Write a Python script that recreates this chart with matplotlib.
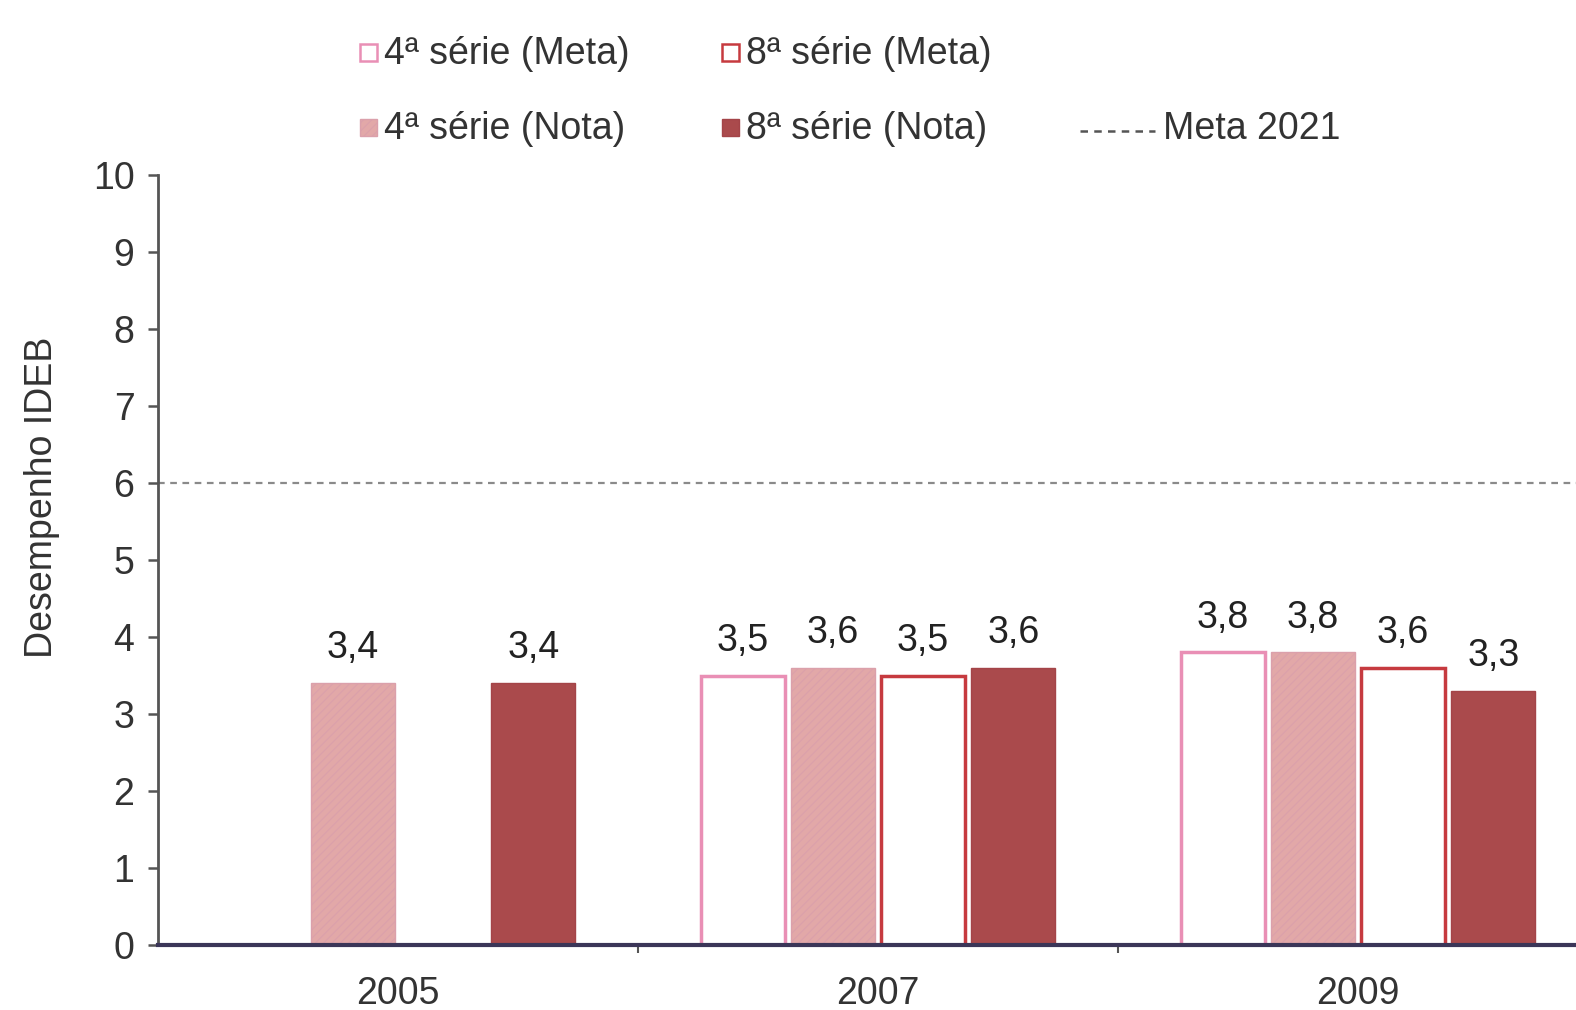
import matplotlib.pyplot as plt
from matplotlib.patches import Rectangle
from matplotlib.lines import Line2D
import numpy as np

plt.rcParams['font.family'] = ['Liberation Sans', 'DejaVu Sans']

# dados
anos = ['2005', '2007', '2009']
meta_4 = [np.nan, 3.5, 3.8]
nota_4 = [3.4, 3.6, 3.8]
meta_8 = [np.nan, 3.5, 3.6]
nota_8 = [3.4, 3.6, 3.3]
meta_2021 = 6
y_ticks = list(range(0, 11))

W, H = 1576, 1010
fs = 27

fig = plt.figure(figsize=(W / 100, H / 100), dpi=100)
ax = fig.add_axes([158 / W, 1 - 945 / H, (W - 158) / W, (945 - 175) / H])

x = np.arange(len(anos))
step = 0.188
width = 0.175
series = [
    (meta_4, dict(facecolor='white', edgecolor='#e98fb5', linewidth=2.5)),
    (nota_4, dict(facecolor='#e2a8a8', edgecolor='#dba0ab', linewidth=1, hatch='////')),
    (meta_8, dict(facecolor='white', edgecolor='#c63a3f', linewidth=2.5)),
    (nota_8, dict(facecolor='#aa4a4c', edgecolor='#a44448', linewidth=1)),
]
plt.rcParams['hatch.color'] = '#eebfc0'
plt.rcParams['hatch.linewidth'] = 0.8

for i, (vals, style) in enumerate(series):
    pos = x + (i - 1.5) * step
    vals = np.array(vals, dtype=float)
    ok = ~np.isnan(vals)
    bars = ax.bar(pos[ok], vals[ok], width, zorder=2, **style)
    for b, v in zip(bars, vals[ok]):
        ax.annotate(f'{v:.1f}'.replace('.', ','),
                    (b.get_x() + b.get_width() / 2, v),
                    xytext=(0, 25), textcoords='offset points',
                    ha='center', va='center', fontsize=fs, color='#222222')

# linha da meta 2021
ax.axhline(meta_2021, color='#8a8a8a', linewidth=1.6, dashes=(3, 2.5), zorder=1)

ax.set_ylim(0, 10)
ax.set_xlim(-0.5, -0.5 + (W - 158) / 480)
ax.set_yticks(y_ticks)
ax.tick_params(axis='y', length=7, width=1.8, color='#555555', pad=10,
               labelsize=fs, labelcolor='#333333')
ax.set_xticks(x)
ax.set_xticklabels(anos)
ax.tick_params(axis='x', length=0, pad=22, labelsize=fs, labelcolor='#333333')
ax.set_xticks([0.5, 1.5], minor=True)
ax.tick_params(axis='x', which='minor', length=6, width=1.5, color='#555555')

for s in ['top', 'right']:
    ax.spines[s].set_visible(False)
ax.spines['left'].set_color('#555555')
ax.spines['left'].set_linewidth(2)
ax.spines['bottom'].set_color('#3b3658')
ax.spines['bottom'].set_linewidth(3)

fig.text(42 / W, 1 - 497 / H, 'Desempenho IDEB', rotation=90,
         ha='center', va='center', fontsize=fs, color='#333333')

# legenda desenhada à mão
leg = [
    (360, 52, series[0][1], '4ª série (Meta)'),
    (722, 52, series[2][1], '8ª série (Meta)'),
    (360, 127, series[1][1], '4ª série (Nota)'),
    (722, 127, series[3][1], '8ª série (Nota)'),
]
for px, py, style, label in leg:
    sz = 17
    st = dict(style)
    st['linewidth'] = min(st.get('linewidth', 1), 1.8)
    fig.patches.append(Rectangle((px / W, 1 - (py + 9) / H), sz / W, sz / H,
                                 transform=fig.transFigure, figure=fig, **st))
    fig.text((px + 24) / W, 1 - (py + 2) / H, label, ha='left', va='center',
             fontsize=fs, color='#333333')

fig.lines.append(Line2D([1080 / W, 1155 / W], [1 - 131 / H, 1 - 131 / H],
                        transform=fig.transFigure, color='#555555',
                        linewidth=1.8, dashes=(3, 2.5)))
fig.text(1163 / W, 1 - 129 / H, 'Meta 2021', ha='left', va='center',
         fontsize=fs, color='#333333')

fig.savefig('out.png', dpi=100)
